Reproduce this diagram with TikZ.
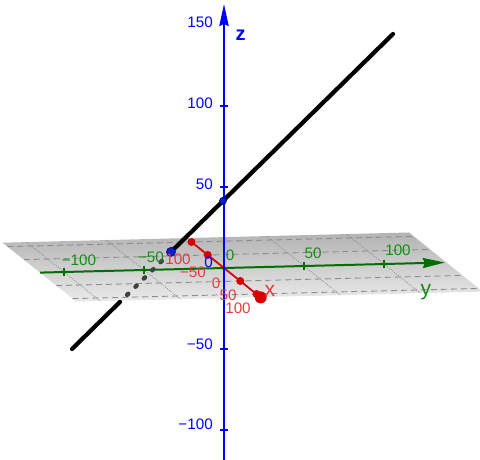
\documentclass[tikz,border=0pt]{standalone}
\usepackage{fontspec}
\setmainfont{Liberation Sans}
\usetikzlibrary{arrows.meta}
\definecolor{zblue}{RGB}{0,0,255}
\definecolor{ygreen}{RGB}{0,110,0}
\definecolor{ytext}{RGB}{20,140,20}
\definecolor{xred}{RGB}{215,0,0}
\definecolor{xtext}{RGB}{230,60,60}
\definecolor{ptblue}{RGB}{10,30,210}
\tikzset{
  planeshade/.style={top color=black!30, bottom color=black!8},
  gridalongy/.style={draw=black!45, line width=0.8pt, dash pattern=on 5pt off 3.5pt},
  gridalongx/.style={draw=black!50, line width=0.45pt, dash pattern=on 1pt off 1pt},
  zaxisline/.style={draw=zblue, line width=1.7pt, -{Stealth[length=0.66cm, width=0.28cm, inset=0.06cm]}},
  yaxisline/.style={draw=ygreen, line width=1.7pt, -{Stealth[length=0.66cm, width=0.3cm, inset=0.06cm]}},
  xaxisline/.style={draw=xred, line width=1.5pt},
  ztickmark/.style={draw=zblue, line width=1.5pt},
  ytickmark/.style={draw=ygreen, line width=1.5pt},
  xdot/.style={circle, fill=xred, inner sep=0pt, minimum size=0.24cm},
  xend/.style={circle, fill=xred, inner sep=0pt, minimum size=0.36cm},
  lineseen/.style={line width=3.6pt, draw=black, line cap=round},
  linehidden/.style={line width=3.8pt, draw=black!75, line cap=round, dash pattern=on 1.4pt off 8.6pt, dash phase=1.5pt},
  bluept/.style={circle, fill=ptblue, draw=ptblue!50!black, line width=0.6pt, inner sep=0pt},
  zval/.style={text=zblue, font=\fontsize{13pt}{15pt}\selectfont, anchor=east, inner sep=0pt},
  yval/.style={text=ytext, font=\fontsize{13pt}{15pt}\selectfont, inner sep=0pt},
  xval/.style={text=xtext, font=\fontsize{13pt}{15pt}\selectfont, inner sep=0pt},
  axisname/.style={font=\fontsize{18pt}{21pt}\selectfont, inner sep=0pt},
}

\begin{document}
\begin{tikzpicture}[x=0.03cm, y=-0.03cm]
\useasboundingbox (0,0) rectangle (480,460);
\shade[planeshade] (2.6,242.7) -- (409.0,232.5) -- (482.8,291.6) -- (76.4,301.7) -- cycle;
\draw[gridalongy] (7.5,246.6) -- (413.9,236.4);
\draw[gridalongy] (23.8,259.6) -- (430.2,249.4);
\draw[gridalongy] (56.3,285.6) -- (462.7,275.4);
\draw[gridalongy] (72.5,298.6) -- (478.9,288.4);
\draw[gridalongx] (26.6,242.1) -- (100.4,301.1);
\draw[gridalongx] (106.6,240.1) -- (180.4,299.1);
\draw[gridalongx] (266.6,236.1) -- (340.4,295.1);
\draw[gridalongx] (346.6,234.1) -- (420.4,293.1);
\draw[yaxisline] (40,272.6) -- (444.8,262.5);
\draw[ytickmark] (64,268) -- (64,276);
\draw[ytickmark] (144,266) -- (144,274);
\draw[ytickmark] (304,262) -- (304,270);
\draw[ytickmark] (384,260) -- (384,268);
\draw[xaxisline] (188.9,239.9) -- (260.7,297.4);
\node[xdot] (xdotm100) at (191.5,242) {};
\node[xdot] (xdotm50) at (207.8,255) {};
\node[xdot] (xdot50) at (240.3,281) {};
\node[xdot] (xdot100) at (256.5,294) {};
\node[xend] (xtip) at (260.7,297.4) {};
\coordinate (lineLow) at (72,349);
\coordinate (leavePlane) at (120,301.9);
\coordinate (hitPlane) at (171,251.9);
\coordinate (lineHigh) at (393,34);
\draw[lineseen] (lineLow) -- (leavePlane);
\draw[linehidden] (leavePlane) -- (hitPlane);
\draw[lineseen] (hitPlane) -- (lineHigh);
\draw[zaxisline] (224,460) -- (224,4);
\draw[ztickmark] (220,187) -- (228,187);
\draw[ztickmark] (220,106) -- (228,106);
\draw[ztickmark] (220,349) -- (228,349);
\draw[ztickmark] (220,430) -- (228,430);
\node[bluept, minimum size=0.27cm] (planePt) at (hitPlane) {};
\node[bluept, minimum size=0.21cm] (axisPt) at (223,200.8) {};
\node[zval] (zlab150) at (213,22) {150};
\node[zval] (zlab100) at (213,103) {100};
\node[zval] (zlab50) at (213,184) {50};
\node[zval] (zlab0) at (213,262) {0};
\node[zval] (zlabm50) at (213,344) {−50};
\node[zval] (zlabm100) at (213,424) {−100};
\node[axisname, text=zblue, font=\bfseries\fontsize{17pt}{20pt}\selectfont] (zname) at (240.5,35.5) {z};
\node[xval] (xlabm100) at (178,259) {100};
\node[xval] (xlabm50) at (193,272) {−50};
\node[xval] (xlab0) at (216,283) {0};
\node[xval] (xlab50) at (228,295) {50};
\node[xval] (xlab100) at (238,308) {100};
\node[axisname, text=xtext] (xname) at (270,291) {x};
\node[yval] (ylabm100) at (79,260) {−100};
\node[yval] (ylabm50) at (151,257) {−50};
\node[yval] (ylab0) at (230,255) {0};
\node[yval] (ylab50) at (313,253) {50};
\node[yval] (ylab100) at (398,250) {100};
\node[axisname, text=ytext] (yname) at (426,292) {y};
\end{tikzpicture}
\end{document}
